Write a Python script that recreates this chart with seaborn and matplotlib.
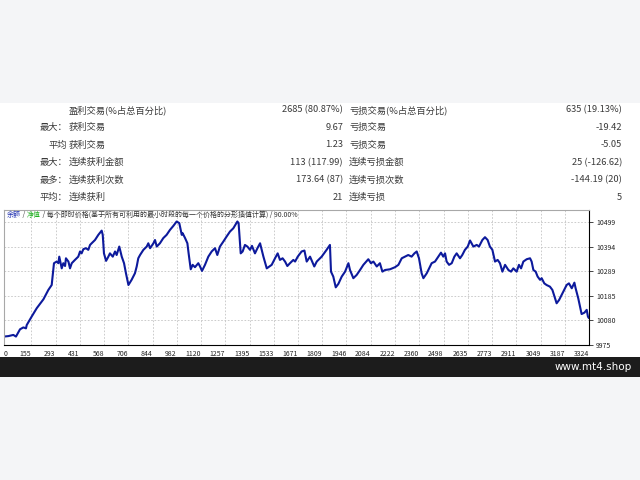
import matplotlib
matplotlib.use("Agg")
from matplotlib import pyplot as plt
from matplotlib.patches import Rectangle
import pandas as pd
import seaborn as sns

# equity curve: trade number / balance
trade_no = [0, 25, 53, 68, 91, 110, 125, 129, 157, 186, 224, 252, 271, 280, 284, 299,
            309, 314, 328, 337, 347, 352, 366, 375, 385, 403, 422, 432, 441, 451, 466,
            479, 489, 498, 517, 536, 555, 561, 568, 580, 593, 602, 618, 631, 640, 655,
            669, 682, 693, 707, 725, 744, 754, 763, 773, 792, 811, 820, 830, 849, 858,
            868, 886, 905, 924, 943, 962, 981, 996, 1010, 1015, 1029, 1042, 1049, 1061,
            1072, 1085, 1104, 1114, 1125, 1142, 1161, 1180, 1199, 1212, 1227, 1246, 1265,
            1284, 1303, 1326, 1333, 1345, 1356, 1369, 1383, 1398, 1409, 1426, 1440, 1455,
            1474, 1493, 1508, 1521, 1540, 1555, 1568, 1583, 1597, 1610, 1625, 1644,
            1654, 1669, 1691, 1707, 1720, 1739, 1763, 1777, 1805, 1833, 1852, 1858, 1871,
            1885, 1900, 1919, 1938, 1957, 1966, 1985, 2004, 2023, 2042, 2070, 2085, 2099,
            2118, 2136, 2150, 2165, 2193, 2222, 2241, 2260, 2279, 2297, 2316, 2332, 2345,
            2358, 2373, 2383, 2402, 2430, 2449, 2468, 2483, 2496, 2506, 2515, 2529, 2544,
            2559, 2572, 2591, 2604, 2619, 2635, 2648, 2657, 2667, 2686, 2699, 2718, 2733,
            2748, 2761, 2775, 2790, 2805, 2818, 2832, 2847, 2866, 2881, 2894, 2913, 2926,
            2938, 2951, 2970, 2989, 2998, 3008, 3021, 3032, 3046, 3055, 3070, 3083, 3102,
            3116, 3131, 3140, 3154, 3178, 3197, 3210, 3226, 3241, 3248, 3263, 3273, 3282,
            3298, 3311, 3318, 3323]
balance = [10011, 10013, 10018, 10011, 10042, 10050, 10046, 10060, 10096, 10132, 10170,
           10210, 10231, 10295, 10324, 10331, 10324, 10352, 10302, 10324, 10312, 10345,
           10331, 10302, 10324, 10338, 10352, 10374, 10366, 10384, 10388, 10381, 10402,
           10409, 10423, 10445, 10463, 10445, 10366, 10334, 10352, 10366, 10352, 10374,
           10359, 10395, 10352, 10324, 10281, 10231, 10253, 10281, 10310, 10345, 10359,
           10381, 10395, 10409, 10388, 10409, 10423, 10395, 10409, 10431, 10445, 10466,
           10483, 10502, 10495, 10445, 10452, 10431, 10409, 10366, 10298, 10317, 10307,
           10324, 10310, 10291, 10317, 10352, 10374, 10388, 10359, 10395, 10416, 10438,
           10459, 10473, 10502, 10495, 10366, 10374, 10402, 10395, 10381, 10398, 10366,
           10388, 10409, 10352, 10302, 10310, 10317, 10345, 10366, 10338, 10345, 10331,
           10312, 10324, 10338,
           10331, 10352, 10374, 10378, 10331, 10352, 10310, 10331, 10352, 10381, 10402,
           10288, 10267, 10221, 10236, 10267, 10288, 10324, 10295, 10260, 10274, 10295,
           10317, 10341, 10324, 10331, 10310, 10324, 10288, 10295, 10298, 10307, 10317,
           10345, 10352, 10359, 10352, 10366, 10374, 10345, 10281, 10260, 10281, 10324,
           10331, 10352, 10369, 10352, 10366, 10331, 10317, 10324, 10352, 10366, 10345,
           10359, 10381, 10395, 10421, 10409, 10395, 10402, 10395, 10423, 10435, 10423,
           10395, 10381, 10331, 10338, 10324, 10288, 10317, 10295, 10288, 10302, 10288,
           10317, 10302, 10331, 10341, 10345, 10331, 10295, 10288, 10267, 10253, 10260,
           10238, 10231, 10224, 10210, 10174, 10153, 10167, 10203, 10231, 10238, 10217,
           10241, 10217, 10174, 10139, 10107, 10113, 10125, 10096, 10090]

x_ticks = [0, 155, 293, 431, 568, 706, 844, 982, 1120, 1257, 1395, 1533, 1671, 1809,
           1946, 2084, 2222, 2360, 2498, 2635, 2773, 2911, 3049, 3187, 3324]
y_ticks = [9975, 10080, 10185, 10289, 10394, 10499]

# statistics table: prefix, label, value, label, value
stat_prefix = ["", "最大：", "平均", "最大：", "最多：", "平均："]
win_labels = ["盈利交易(%占总百分比)", "获利交易", "获利交易", "连续获利金额", "连续获利次数", "连续获利"]
win_values = ["2685 (80.87%)", "9.67", "1.23", "113 (117.99)", "173.64 (87)", "21"]
loss_labels = ["亏损交易(%占总百分比)", "亏损交易", "亏损交易", "连续亏损金额", "连续亏损次数", "连续亏损"]
loss_values = ["635 (19.13%)", "-19.42", "-5.05", "25 (-126.62)", "-144.19 (20)", "5"]

sns.set_style("white")
plt.rcParams['font.family'] = ['Noto Sans CJK SC', 'DejaVu Sans']

fig = plt.figure(figsize=(6.4, 4.8), dpi=100)
fig.patch.set_facecolor("#f4f5f7")
# white report panel and black footer strip
fig.add_artist(Rectangle((0, 1 - 357 / 480), 1, (357 - 103) / 480,
                         transform=fig.transFigure, facecolor="white", edgecolor="none", zorder=0))
fig.add_artist(Rectangle((0, 1 - 377 / 480), 1, 20 / 480,
                         transform=fig.transFigure, facecolor="#1c1c1c", edgecolor="none", zorder=0))
fig.text(632 / 640, 1 - 367 / 480, "www.mt4.shop", color="white", fontsize=7.5,
         ha="right", va="center", family="DejaVu Sans")

txt_col = "#3a3a3a"
row_y = [110, 127.5, 145, 162.5, 180, 197]
for i, y in enumerate(row_y):
    fy = 1 - y / 480
    fs = 6.7
    if stat_prefix[i]:
        fig.text(67 / 640, fy, stat_prefix[i], ha="right", va="center", fontsize=fs, color=txt_col)
    fig.text(69 / 640, fy, win_labels[i], ha="left", va="center", fontsize=fs, color=txt_col)
    fig.text(343 / 640, fy, win_values[i], ha="right", va="center", fontsize=fs, color=txt_col)
    fig.text(349 / 640, fy, loss_labels[i], ha="left", va="center", fontsize=fs, color=txt_col)
    fig.text(622 / 640, fy, loss_values[i], ha="right", va="center", fontsize=fs, color=txt_col)

ax = fig.add_axes([4 / 640, 1 - 345 / 480, 585 / 640, 135 / 480])
ax.set_facecolor("white")
df = pd.DataFrame({"trade": trade_no, "balance": balance})
sns.lineplot(data=df, x="trade", y="balance", ax=ax, color="#0d1a9c", lw=1.5)

ax.set_xlim(0, 3324)
ax.set_ylim(9975, 10551)
ax.set_xticks(x_ticks)
ax.set_xticklabels([str(t) for t in x_ticks], fontsize=5, color="#222222", ha="right")
ax.get_xticklabels()[0].set_ha("left")
ax.set_yticks(y_ticks)
ax.yaxis.tick_right()
ax.set_yticklabels([str(t) for t in y_ticks], fontsize=5, color="#222222")
ax.tick_params(axis="x", length=2, pad=1.5, width=0.6)
ax.tick_params(axis="y", length=3, pad=2, width=0.6)
ax.set_xlabel("")
ax.set_ylabel("")
ax.grid(True, color="#c4c4c4", linestyle=(0, (2, 2)), lw=0.6)

for side in ["left", "top"]:
    ax.spines[side].set_color("#a8a8a8")
    ax.spines[side].set_linewidth(0.8)
for side in ["bottom", "right"]:
    ax.spines[side].set_color("black")
    ax.spines[side].set_linewidth(0.8)
    ax.spines[side].set_visible(True)

# header line inside the chart, coloured pieces chained one after another
t = ax.text(3 / 585, 1 - 5 / 135, "余额", transform=ax.transAxes, fontsize=5,
            color="#2030b0", ha="left", va="center")
for piece, col in [(" / ", "#444444"), ("净值", "#20b020"),
                   (" / 每个即时价格(基于所有可利用的最小时段的每一个价格的分形插值计算) / 90.00%", "#333333")]:
    t = ax.annotate(piece, xy=(1, 0.5), xycoords=t, fontsize=5, color=col,
                    ha="left", va="center")

fig.savefig("out.png", dpi=100, facecolor=fig.get_facecolor())
